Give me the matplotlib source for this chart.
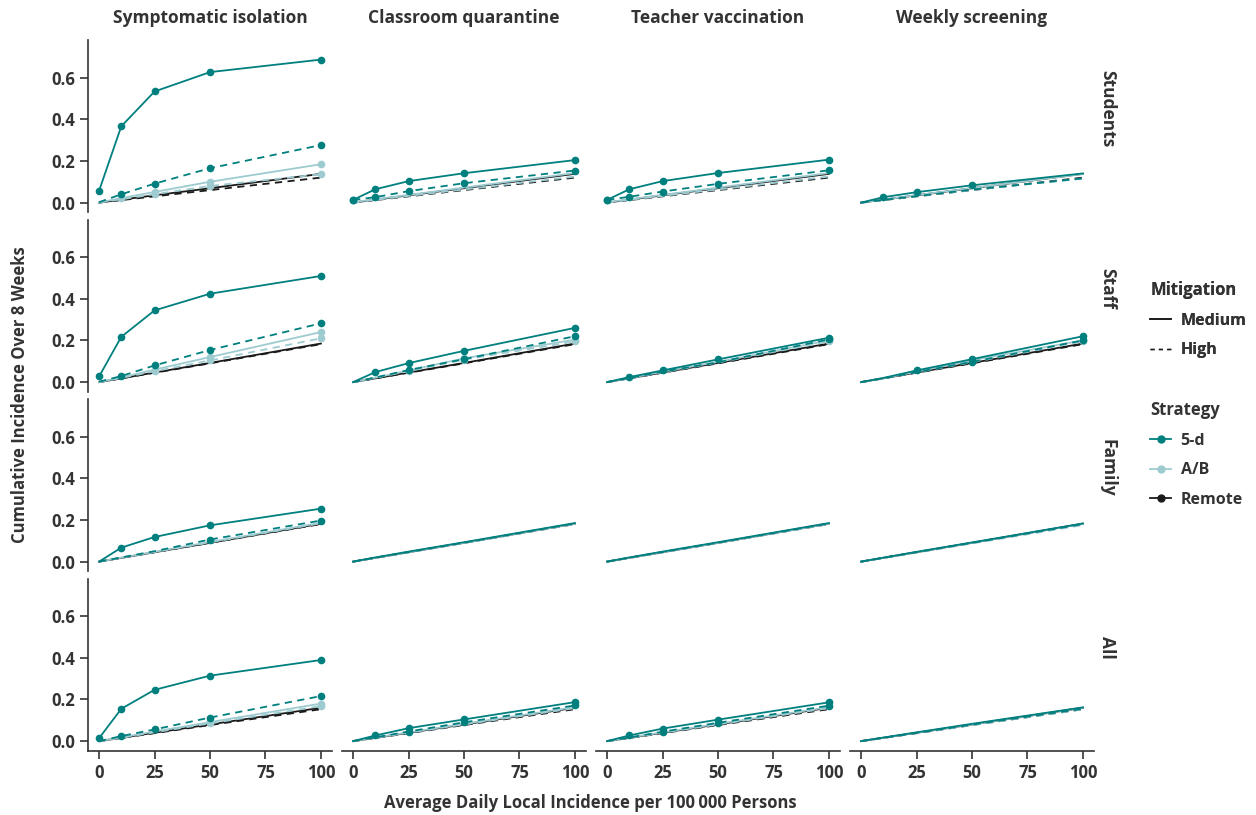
import numpy as np
import matplotlib.pyplot as plt
from matplotlib.lines import Line2D

plt.rcParams['font.family'] = ['Open Sans', 'DejaVu Sans']

x = [0, 10, 25, 50, 100]
cols = ["Symptomatic isolation", "Classroom quarantine", "Teacher vaccination", "Weekly screening"]
rows = ["Students", "Staff", "Family", "All"]

# values indexed [row][col] -> 5 points along x
fived_med = [
    [[0.057, 0.366, 0.533, 0.626, 0.686], [0.013, 0.064, 0.103, 0.141, 0.204],
     [0.013, 0.064, 0.103, 0.142, 0.206], [0, 0.026, 0.050, 0.083, 0.140]],
    [[0.027, 0.217, 0.344, 0.424, 0.509], [0, 0.048, 0.091, 0.150, 0.260],
     [0, 0.024, 0.056, 0.109, 0.213], [0, 0.020, 0.056, 0.110, 0.220]],
    [[0, 0.067, 0.118, 0.174, 0.254], [0, 0.020, 0.048, 0.093, 0.185],
     [0, 0.020, 0.048, 0.093, 0.185], [0, 0.019, 0.047, 0.092, 0.183]],
    [[0.014, 0.155, 0.246, 0.314, 0.389], [0, 0.027, 0.062, 0.104, 0.187],
     [0, 0.027, 0.060, 0.103, 0.186], [0, 0.017, 0.042, 0.083, 0.162]],
]
fived_high = [
    [[0.002, 0.040, 0.091, 0.165, 0.276], [0.013, 0.026, 0.055, 0.093, 0.154],
     [0.013, 0.028, 0.053, 0.090, 0.155], [0, 0.013, 0.031, 0.062, 0.116]],
    [[0.002, 0.029, 0.080, 0.154, 0.282], [0, 0.022, 0.058, 0.110, 0.220],
     [0, 0.020, 0.050, 0.095, 0.205], [0, 0.018, 0.048, 0.097, 0.200]],
    [[0, 0.020, 0.050, 0.106, 0.197], [0, 0.019, 0.046, 0.091, 0.183],
     [0, 0.019, 0.046, 0.091, 0.183], [0, 0.018, 0.045, 0.090, 0.180]],
    [[0, 0.024, 0.056, 0.113, 0.216], [0, 0.018, 0.046, 0.090, 0.171],
     [0, 0.017, 0.045, 0.088, 0.170], [0, 0.016, 0.039, 0.079, 0.155]],
]
ab_med = [
    [[0, 0.022, 0.051, 0.100, 0.184], [0.002, 0.016, 0.037, 0.072, 0.142],
     [0.002, 0.016, 0.037, 0.072, 0.142], [0, 0.014, 0.036, 0.070, 0.137]],
    [[0, 0.022, 0.060, 0.120, 0.240], [0, 0.021, 0.056, 0.114, 0.204],
     [0, 0.019, 0.050, 0.097, 0.200], [0, 0.018, 0.050, 0.105, 0.200]],
    [[0, 0.019, 0.047, 0.094, 0.186], [0, 0.018, 0.045, 0.090, 0.182],
     [0, 0.018, 0.045, 0.090, 0.182], [0, 0.018, 0.045, 0.090, 0.181]],
    [[0, 0.018, 0.046, 0.091, 0.180], [0, 0.017, 0.042, 0.083, 0.163],
     [0, 0.017, 0.042, 0.083, 0.163], [0, 0.016, 0.040, 0.080, 0.160]],
]
ab_high = [
    [[0, 0.016, 0.040, 0.080, 0.136], [0, 0.013, 0.032, 0.063, 0.125],
     [0, 0.013, 0.032, 0.063, 0.125], [0, 0.012, 0.030, 0.060, 0.116]],
    [[0, 0.020, 0.052, 0.104, 0.210], [0, 0.021, 0.052, 0.108, 0.195],
     [0, 0.018, 0.047, 0.094, 0.195], [0, 0.018, 0.047, 0.095, 0.195]],
    [[0, 0.019, 0.046, 0.092, 0.184], [0, 0.018, 0.044, 0.089, 0.180],
     [0, 0.018, 0.044, 0.089, 0.180], [0, 0.017, 0.043, 0.087, 0.175]],
    [[0, 0.016, 0.042, 0.085, 0.168], [0, 0.016, 0.040, 0.080, 0.158],
     [0, 0.016, 0.040, 0.080, 0.158], [0, 0.015, 0.038, 0.076, 0.152]],
]
remote_med = [
    [0, 0.014, 0.035, 0.069, 0.138],
    [0, 0.018, 0.046, 0.092, 0.185],
    [0, 0.018, 0.045, 0.090, 0.182],
    [0, 0.016, 0.040, 0.080, 0.160],
]
remote_high = [
    [0, 0.012, 0.030, 0.060, 0.120],
    [0, 0.018, 0.045, 0.090, 0.182],
    [0, 0.018, 0.045, 0.090, 0.180],
    [0, 0.015, 0.038, 0.077, 0.153],
]

teal = "#007f7f"
light = "#9ecbd0"
black = "#1a1a1a"
txt = "#333333"

W, H = 1256, 815
fig = plt.figure(figsize=(W / 100, H / 100), dpi=100)

def fx(px):
    return px / W

def fy(py):
    return 1 - py / H

for r in range(4):
    for c in range(4):
        left = 88 + 254 * c
        top = 40 + 179.5 * r
        ax = fig.add_axes([fx(left), fy(top + 172), fx(244), 172 / H])
        ax.set_xlim(-5, 105)
        ax.set_ylim(-0.045, 0.78)
        for s in ax.spines.values():
            s.set_visible(False)
        ax.tick_params(colors=txt, labelsize=12, length=6, width=1.2)
        if c == 0:
            ax.spines['left'].set_visible(True)
            ax.spines['left'].set_color(txt)
            ax.spines['left'].set_linewidth(1.2)
            ax.set_yticks([0, 0.2, 0.4, 0.6])
            ax.set_yticklabels(["0.0", "0.2", "0.4", "0.6"], fontweight='bold')
        else:
            ax.set_yticks([])
        if r == 3:
            ax.spines['bottom'].set_visible(True)
            ax.spines['bottom'].set_color(txt)
            ax.spines['bottom'].set_linewidth(1.2)
            ax.set_xticks([0, 25, 50, 75, 100])
            ax.set_xticklabels(["0", "25", "50", "75", "100"], fontweight='bold')
        else:
            ax.set_xticks([])
        if r == 0:
            ax.set_title(cols[c], fontsize=12.5, fontweight='bold', color=txt, pad=12)
        if c == 3:
            ax.text(1.055, 0.6, rows[r], transform=ax.transAxes, rotation=270,
                    ha='center', va='center', fontsize=12.5, fontweight='bold', color=txt)

        rm = remote_med[r]
        rh = remote_high[r]
        series = [
            (rm, rm, black, '-', False),
            (rh, rh, black, '--', False),
            (ab_med[r][c], rm, light, '-', True),
            (ab_high[r][c], rh, light, '--', True),
            (fived_med[r][c], rm, teal, '-', True),
            (fived_high[r][c], rh, teal, '--', True),
        ]
        for vals, base, col, ls, mark in series:
            ax.plot(x, vals, color=col, ls=ls, lw=1.3, dashes=(4, 3) if ls == '--' else (None, None))
            if mark:
                v = np.array(vals)
                m = np.abs(v - np.array(base)) > 0.006
                ax.plot(np.array(x)[m], v[m], 'o', color=col, ms=4.5, mec=col)

fig.text(fx(20), fy(395), "Cumulative Incidence Over 8 Weeks", rotation=90,
         ha='center', va='center', fontsize=12, fontweight='bold', color=txt)
fig.text(fx(590), fy(803), "Average Daily Local Incidence per 100\u2009000 Persons",
         ha='center', va='center', fontsize=12, fontweight='bold', color=txt)

def style_legend(leg):
    leg.get_title().set_fontweight('bold')
    leg.get_title().set_fontsize(12)
    leg.get_title().set_color(txt)
    for t in leg.get_texts():
        t.set_color(txt)

leg_kw = dict(loc='upper left', frameon=False, prop={'weight': 'bold', 'size': 11.5},
              handlelength=1.3, handletextpad=0.6, labelspacing=0.85,
              borderpad=0.2, borderaxespad=0, alignment='left')

mit_handles = [Line2D([], [], color=black, lw=1.2, ls='-'),
               Line2D([], [], color=black, lw=1.0, ls=(0, (3, 3)))]
leg1 = fig.legend(mit_handles, ["Medium", "High"], title="Mitigation",
                  bbox_to_anchor=(fx(1147), fy(278)), **leg_kw)
style_legend(leg1)
fig.add_artist(leg1)

str_handles = [Line2D([], [], color=teal, lw=1.3, marker='o', ms=5),
               Line2D([], [], color=light, lw=1.3, marker='o', ms=5),
               Line2D([], [], color=black, lw=1.3, marker='o', ms=5)]
leg2 = fig.legend(str_handles, ["5-d", "A/B", "Remote"], title="Strategy",
                  bbox_to_anchor=(fx(1147), fy(398)), **leg_kw)
style_legend(leg2)

fig.savefig("out.png", dpi=100)
